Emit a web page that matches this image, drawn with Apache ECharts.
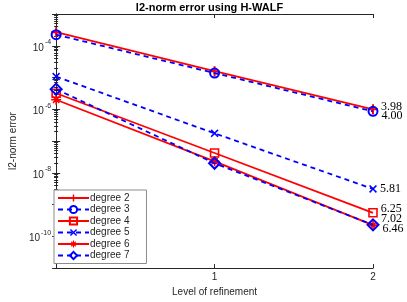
<!DOCTYPE html>
<html>
<head>
<meta charset="utf-8">
<script src="https://cdn.jsdelivr.net/npm/echarts@6/dist/echarts.min.js"></script>
<style>html,body{margin:0;padding:0;background:#fff}#c{width:407px;height:302px}</style>
</head>
<body>
<div id="c"></div>
<script>
var levels = [0, 1, 2];
var xTickLabels = ['', '1', '2'];
var seriesNames = ['degree 2', 'degree 3', 'degree 4', 'degree 5', 'degree 6', 'degree 7'];
var deg2 = [2.67e-4, 1.59e-5, 1.0e-6];
var deg3 = [2.23e-4, 1.38e-5, 8.6e-7];
var deg4 = [3.2e-6, 4.2e-8, 5.5e-10];
var deg5 = [1.07e-5, 1.75e-7, 3.1e-9];
var deg6 = [2.0e-6, 2.3e-8, 2.25e-10];
var deg7 = [4.3e-6, 2.0e-8, 2.3e-10];
var rates = ['3.98', '4.00', '6.25', '5.81', '7.02', '6.46'];
var titleText = 'l2-norm error using H-WALF';
var yName = 'l2-norm error';
var xName = 'Level of refinement';

var PLUS = 'path://M4,0 H6 V4 H10 V6 H6 V10 H4 V6 H0 V4 H4 Z';
var CROSS = 'path://M0,1.4 L1.4,0 L5,3.6 L8.6,0 L10,1.4 L6.4,5 L10,8.6 L8.6,10 L5,6.4 L1.4,10 L0,8.6 L3.6,5 Z';
var STAR = 'path://M4.2,0 H5.8 V4.2 H10 V5.8 H5.8 V10 H4.2 V5.8 H0 V4.2 H4.2 Z M1.3,2.4 L2.4,1.3 L5,3.9 L7.6,1.3 L8.7,2.4 L6.1,5 L8.7,7.6 L7.6,8.7 L5,6.1 L2.4,8.7 L1.3,7.6 L3.9,5 Z';

var RED = '#ff0000', BLUE = '#0000ff';
var defs = [
  {data: deg2, color: RED, dash: 'solid', symbol: PLUS, size: 10, fill: RED, bw: 0, off: -2},
  {data: deg3, color: BLUE, dash: [5, 4], symbol: 'circle', size: 9, fill: 'transparent', bw: 2, off: 4},
  {data: deg4, color: RED, dash: 'solid', symbol: 'rect', size: 8, fill: 'transparent', bw: 1.6, off: -4},
  {data: deg5, color: BLUE, dash: [5, 4], symbol: CROSS, size: 8, fill: BLUE, bw: 0, off: 0},
  {data: deg6, color: RED, dash: 'solid', symbol: STAR, size: 10, fill: RED, bw: 0, off: -6},
  {data: deg7, color: BLUE, dash: [5, 4], symbol: 'diamond', size: 11, fill: 'transparent', bw: 2, off: 4}
];

var series = defs.map(function (d, i) {
  return {
    name: seriesNames[i],
    type: 'line',
    xAxisIndex: 0,
    yAxisIndex: 0,
    data: levels.map(function (x, j) {
      var p = {value: [x, d.data[j]]};
      if (j === levels.length - 1) {
        p.label = {
          show: true, position: 'right', distance: 3, offset: [0, d.off],
          formatter: rates[i], color: '#000', fontFamily: 'Liberation Serif', fontSize: 12
        };
      }
      return p;
    }),
    symbol: d.symbol,
    symbolSize: d.size,
    showAllSymbol: true,
    animation: false,
    z: 2 + i,
    lineStyle: {color: d.color, width: 1.8, type: d.dash},
    itemStyle: {color: d.fill, borderColor: d.color, borderWidth: d.bw}
  };
});

var axisColor = '#262626';
function expLabel(v) {
  var e = Math.round(Math.log10(v));
  if (e % 2 !== 0) return '';
  return '{b|10}{s|' + e + '}';
}

var option = {
  backgroundColor: '#fff',
  animation: false,
  title: {
    text: titleText, left: 209.5, top: 2, padding: 0, textAlign: 'center',
    textStyle: {fontFamily: 'Liberation Sans', fontSize: 11, fontWeight: 'bold', color: '#000'}
  },
  grid: {left: 46, right: 34, top: 14, bottom: 30, containLabel: false},
  legend: {
    orient: 'vertical', left: 54, top: 190,
    itemWidth: 31, itemHeight: 9, itemGap: 1.5,
    padding: [3, 17, 3, 3],
    borderColor: '#8c8c8c', borderWidth: 1, backgroundColor: '#fff',
    textStyle: {fontFamily: 'Liberation Sans', fontSize: 10, lineHeight: 10, color: '#262626', padding: [0, 0, 0, -4]},
    data: seriesNames
  },
  xAxis: [{
    type: 'value', min: 0, max: 2, interval: 1,
    name: xName, nameLocation: 'middle', nameGap: 17,
    nameTextStyle: {fontFamily: 'Liberation Sans', fontSize: 10, color: '#262626'},
    axisLine: {lineStyle: {color: axisColor, width: 1}},
    axisTick: {inside: true, length: 4, lineStyle: {color: axisColor}},
    axisLabel: {formatter: function (v) { return xTickLabels[levels.indexOf(v)] || ''; },
      fontFamily: 'Liberation Sans', fontSize: 10, color: '#262626', margin: 4},
    splitLine: {show: false}
  }, {
    type: 'value', min: 0, max: 2, interval: 1, position: 'top',
    axisLine: {lineStyle: {color: axisColor, width: 1}},
    axisTick: {inside: true, length: 4, lineStyle: {color: axisColor}},
    axisLabel: {show: false}, splitLine: {show: false}
  }],
  yAxis: [{
    type: 'log', logBase: 10, min: 1e-11, max: 1e-3, interval: 1,
    name: yName, nameLocation: 'middle', nameGap: 30,
    nameTextStyle: {fontFamily: 'Liberation Sans', fontSize: 10, color: '#262626'},
    axisLine: {show: true, lineStyle: {color: axisColor, width: 1}},
    axisTick: {inside: true, length: 4, lineStyle: {color: axisColor}},
    minorTick: {show: true, splitNumber: 9, length: 2, lineStyle: {color: axisColor}},
    axisLabel: {
      formatter: expLabel, margin: 5, color: '#262626',
      rich: {
        b: {fontFamily: 'Liberation Sans', fontSize: 10, color: '#262626', verticalAlign: 'bottom'},
        s: {fontFamily: 'Liberation Sans', fontSize: 7, color: '#262626', verticalAlign: 'bottom', padding: [0, 0, 7, 1]}
      }
    },
    splitLine: {show: false}
  }, {
    type: 'log', logBase: 10, min: 1e-11, max: 1e-3, interval: 1, position: 'right',
    axisLine: {show: true, lineStyle: {color: axisColor, width: 1}},
    axisTick: {inside: true, length: 4, lineStyle: {color: axisColor}},
    minorTick: {show: true, splitNumber: 9, length: 2, lineStyle: {color: axisColor}},
    axisLabel: {show: false}, splitLine: {show: false}
  }],
  series: series
};

var chart = echarts.init(document.getElementById('c'), null, {renderer: 'canvas'});
chart.setOption(option);
</script>
</body>
</html>
